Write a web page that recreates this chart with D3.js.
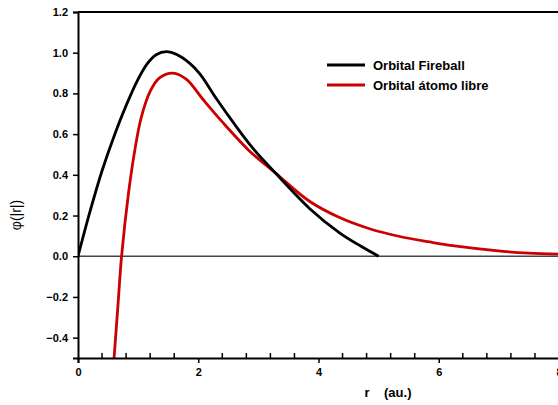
<!DOCTYPE html>
<html><head><meta charset="utf-8">
<script src="https://cdn.jsdelivr.net/npm/d3@7/dist/d3.min.js"></script>
<style>body{margin:0;background:#fff}svg{display:block}text{font-family:"Liberation Sans",Arial,sans-serif}</style>
</head><body><svg id="c" width="558" height="405"></svg>
<script>
const fireR = [0, 0.2, 0.4, 0.6, 0.8, 1.0, 1.15, 1.3, 1.47, 1.65, 1.85, 2.03, 2.3, 2.6, 2.91, 3.28, 3.85, 4.35, 4.7, 5.0];
const fireV = [0, 0.22, 0.42, 0.59, 0.74, 0.87, 0.945, 0.99, 1.005, 0.99, 0.95, 0.895, 0.775, 0.65, 0.53, 0.41, 0.235, 0.115, 0.05, 0.0];
const freeR = [0.60, 0.66, 0.725, 0.84, 0.95, 1.05, 1.2, 1.35, 1.58, 1.8, 2.08, 2.4, 2.86, 3.28, 3.85, 4.35, 4.85, 5.35, 5.85, 6.23, 7.07, 7.5, 8.0];
const freeV = [-0.5, -0.26, 0, 0.31, 0.53, 0.68, 0.81, 0.875, 0.90, 0.87, 0.77, 0.66, 0.515, 0.41, 0.27, 0.19, 0.135, 0.097, 0.07, 0.052, 0.024, 0.015, 0.01];
const xTicks = [0, 2, 4, 6, 8];
const yTicks = [-0.4, -0.2, 0.0, 0.2, 0.4, 0.6, 0.8, 1.0, 1.2];
const seriesNames = ["Orbital Fireball", "Orbital átomo libre"];
const seriesColors = ["#000000", "#cc0000"];

const svg = d3.select("#c");
const x = d3.scaleLinear().domain([0, 8]).range([78, 559]);
const y = d3.scaleLinear().domain([-0.5, 1.2]).range([358, 12]);

const defs = svg.append("defs");
defs.append("clipPath").attr("id","clip").append("rect").attr("x",78).attr("y",12).attr("width",481).attr("height",346);

// zero line
svg.append("line").attr("x1",x(0)).attr("x2",x(8)).attr("y1",y(0)).attr("y2",y(0))
  .attr("stroke","#444").attr("stroke-width",1.5);

const line = d3.line().x(d=>x(d[0])).y(d=>y(d[1])).curve(d3.curveCatmullRom.alpha(0.5));
const g = svg.append("g").attr("clip-path","url(#clip)");
g.append("path").datum(freeR.map((r,i)=>[r,freeV[i]])).attr("d",line)
  .attr("fill","none").attr("stroke",seriesColors[1]).attr("stroke-width",2.8);
g.append("path").datum(fireR.map((r,i)=>[r,fireV[i]])).attr("d",line)
  .attr("fill","none").attr("stroke",seriesColors[0]).attr("stroke-width",2.8);

// top frame line
svg.append("line").attr("x1",x(0)).attr("x2",x(8)).attr("y1",y(1.2)).attr("y2",y(1.2))
  .attr("stroke","#000").attr("stroke-width",2);

// bottom axis: major ticks outward
const xa = svg.append("g").attr("transform",`translate(0,${y(-0.5)})`)
  .call(d3.axisBottom(x).tickValues(xTicks).tickFormat(d3.format("d")).tickSizeOuter(0).tickSize(5));
// minor ticks inward
const minor = d3.range(0, 8.01, 0.4).filter(v => Math.abs(v/2 - Math.round(v/2)) > 1e-6);
xa.selectAll(".minor").data(minor).enter().append("line").attr("class","minor")
  .attr("x1",d=>x(d)).attr("x2",d=>x(d)).attr("y1",0).attr("y2",-5).attr("stroke","#000").attr("stroke-width",1.5);
xa.select(".domain").attr("stroke-width",2);
xa.selectAll(".tick line").attr("stroke-width",1.5);
xa.selectAll("text").attr("font-size",11).attr("font-weight","bold").attr("dy","0.95em").attr("fill","#000");

const ya = svg.append("g").attr("transform",`translate(${x(0)},0)`)
  .call(d3.axisLeft(y).tickValues(yTicks).tickFormat(d3.format(".1f")).tickSizeOuter(0).tickSize(5));
ya.select(".domain").attr("stroke-width",2);
ya.selectAll(".tick line").attr("stroke-width",1.5);
ya.selectAll("text").attr("font-size",11).attr("font-weight","bold").attr("x",-10).attr("fill","#000");

// axis labels
svg.append("text").attr("x",388).attr("y",397).attr("text-anchor","middle")
  .attr("font-size",13).attr("font-weight","bold").attr("xml:space","preserve").text("r    (au.)");
svg.append("text").attr("transform","translate(21,215) rotate(-90)").attr("text-anchor","middle")
  .attr("font-size",14).text("φ(|r|)");

// legend
seriesNames.forEach((n,i)=>{
  const ly = 65 + i*20;
  svg.append("line").attr("x1",327).attr("x2",365).attr("y1",ly).attr("y2",ly)
    .attr("stroke",seriesColors[i]).attr("stroke-width",2.8);
  svg.append("text").attr("x",373).attr("y",ly).attr("dy","0.35em")
    .attr("font-size",13).attr("font-weight","bold").text(n);
});
</script></body></html>
